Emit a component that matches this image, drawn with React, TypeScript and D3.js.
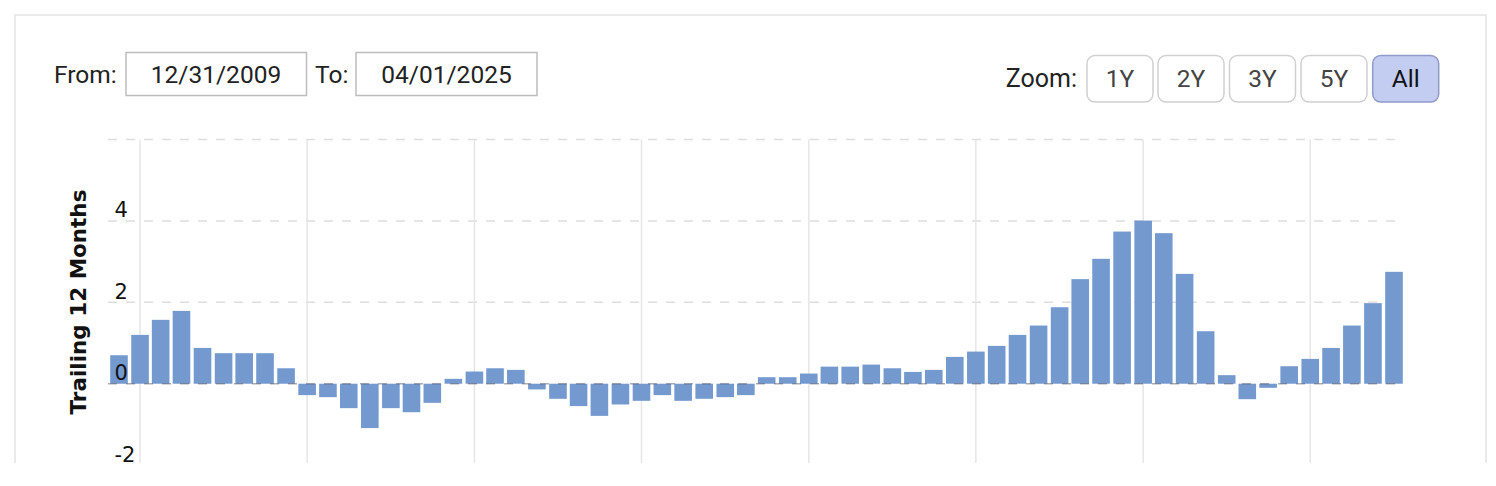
import React from "react";
import * as d3 from "d3";

// ---- data ----
const startQuarter = "2009-10-01";
const values: number[] = [
  0.70, 1.20, 1.57, 1.79, 0.88, 0.75, 0.75, 0.75, 0.38, -0.28,
  -0.33, -0.60, -1.09, -0.60, -0.70, -0.47, 0.12, 0.30, 0.38, 0.34,
  -0.14, -0.37, -0.55, -0.79, -0.51, -0.42, -0.28, -0.42, -0.37, -0.33,
  -0.28, 0.16, 0.16, 0.25, 0.42, 0.42, 0.47, 0.38, 0.29, 0.34,
  0.66, 0.79, 0.93, 1.20, 1.43, 1.88, 2.57, 3.07, 3.74, 4.01,
  3.70, 2.70, 1.29, 0.21, -0.38, -0.10, 0.43, 0.61, 0.88, 1.43,
  1.98, 2.75,
];
const yTicks: number[] = [-2, 0, 2, 4, 6];
const yTickLabels: string[] = ["-2", "0", "2", "4", ""];
const zoomButtons: string[] = ["1Y", "2Y", "3Y", "5Y", "All"];
const activeZoom = "All";
const fromDate = "12/31/2009";
const toDate = "04/01/2025";
const yTitle = "Trailing 12 Months";

const W = 1496;
const H = 486;

export default function App() {
  const parse = d3.timeParse("%Y-%m-%d");
  const start = parse(startQuarter) as Date;
  const dates = values.map((_, i) => d3.timeMonth.offset(start, i * 3));

  const x = d3
    .scaleTime()
    .domain([dates[0], dates[dates.length - 1]])
    .range([119, 1394]);
  const y = d3.scaleLinear().domain([-2, 6]).range([465.1, 139.6]);

  const plotLeft = 108;
  const plotRight = 1401;
  const clipBottom = 463;
  const barW = 17.6;

  const yearTicks = d3.timeYear
    .every(2)!
    .range(new Date(2010, 0, 1), new Date(2025, 0, 2));

  const btnX = [1087, 1158, 1229.5, 1301, 1372.7];
  const btnW = 66;

  const font = "Roboto, 'Noto Sans', sans-serif";
  const dj = "'DejaVu Sans', Verdana, sans-serif";

  return (
    <div style={{ position: "absolute", left: 0, top: 0, width: W, height: H, background: "#fff" }}>
      <svg width={W} height={H} style={{ display: "block" }}>
        <defs>
          <clipPath id="pageClip">
            <rect x={0} y={0} width={W} height={clipBottom} />
          </clipPath>
        </defs>
        <g clipPath="url(#pageClip)">
          {/* card border */}
          <path
            d={`M15,${clipBottom + 5} V15 H1486 V${clipBottom + 5}`}
            fill="none"
            stroke="#e4e4e4"
            strokeWidth={1.5}
          />

          {/* From / To */}
          <text x={54} y={83.3} fontFamily={font} fontSize={24.5} fill="#222">From:</text>
          <rect x={126} y={52.5} width={180.5} height={43} fill="#fff" stroke="#bdbdbd" strokeWidth={1.5} />
          <text x={216} y={83.3} textAnchor="middle" fontFamily={font} fontSize={24.5} fill="#222">{fromDate}</text>
          <text x={315} y={83.3} fontFamily={font} fontSize={24.5} fill="#222">To:</text>
          <rect x={356} y={52.5} width={181} height={43} fill="#fff" stroke="#bdbdbd" strokeWidth={1.5} />
          <text x={446.5} y={83.3} textAnchor="middle" fontFamily={font} fontSize={24.5} fill="#222">{toDate}</text>

          {/* Zoom buttons */}
          <text x={1077} y={86.7} textAnchor="end" fontFamily={font} fontSize={25} fill="#222">Zoom:</text>
          {zoomButtons.map((b, i) => {
            const active = b === activeZoom;
            return (
              <g key={b}>
                <rect
                  x={btnX[i]}
                  y={55.5}
                  width={btnW}
                  height={46.5}
                  rx={8}
                  fill={active ? "#c3ccf1" : "#fff"}
                  stroke={active ? "#8f9bc8" : "#d0d0d0"}
                  strokeWidth={1.5}
                />
                <text
                  x={btnX[i] + btnW / 2}
                  y={87}
                  textAnchor="middle"
                  fontFamily={font}
                  fontSize={24.5}
                  fill={active ? "#111" : "#444"}
                >
                  {b}
                </text>
              </g>
            );
          })}

          {/* horizontal grid lines */}
          {yTicks.filter((t) => t !== 0).map((t) => (
            <line
              key={"h" + t}
              x1={plotLeft}
              x2={plotRight}
              y1={y(t)}
              y2={y(t)}
              stroke="#dedede"
              strokeWidth={1.5}
              strokeDasharray="9,9"
            />
          ))}

          {/* vertical grid lines */}
          {yearTicks.map((d) => (
            <line
              key={"v" + d.getFullYear()}
              x1={x(d)}
              x2={x(d)}
              y1={y(6)}
              y2={clipBottom + 5}
              stroke="#e6e6e6"
              strokeWidth={1.5}
            />
          ))}

          {/* bars */}
          {values.map((v, i) => {
            const cx = x(dates[i]);
            const y0 = y(0);
            const yv = y(v);
            return (
              <rect
                key={"b" + i}
                x={cx - barW / 2}
                y={Math.min(y0, yv)}
                width={barW}
                height={Math.abs(yv - y0)}
                fill="#7399cf"
              />
            );
          })}

          {/* zero line */}
          <line
            x1={plotLeft}
            x2={plotRight}
            y1={y(0)}
            y2={y(0)}
            stroke="rgba(70,70,90,0.45)"
            strokeWidth={1.5}
            strokeDasharray="9,9"
          />

          {/* y tick labels */}
          {yTicks.map((t, i) => (
            <text
              key={"yl" + t}
              x={114.5}
              y={y(t) - 3.5}
              fontFamily={dj}
              fontSize={21}
              fill="#111"
            >
              {yTickLabels[i]}
            </text>
          ))}

          {/* y title */}
          <text
            transform={`translate(86,302) rotate(-90)`}
            textAnchor="middle"
            fontFamily={dj}
            fontWeight="bold"
            fontSize={21.5}
            fill="#111"
          >
            {yTitle}
          </text>
        </g>
      </svg>
    </div>
  );
}
